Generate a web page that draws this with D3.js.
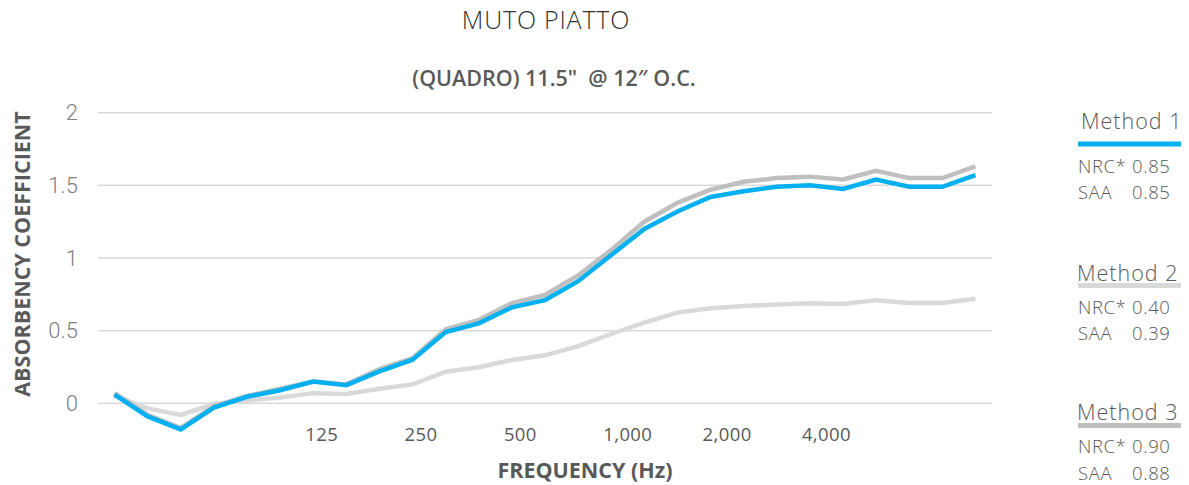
<!DOCTYPE html>
<html>
<head>
<meta charset="utf-8">
<script src="https://cdn.jsdelivr.net/npm/d3@7"></script>
<style>
  html, body { margin: 0; padding: 0; background: #fff; }
  svg { display: block; }
</style>
</head>
<body>
<svg id="chart" width="1189" height="485"></svg>
<script>
// ---- data ----
const categories = d3.range(27).map(i => "b" + i); // 1/3-octave band positions
const tickLabels = ["125", "250", "500", "1,000", "2,000", "4,000"];
const tickIndex = [6, 9, 12, 15, 18, 21];
const yTicks = [0, 0.5, 1, 1.5, 2];

const method1 = [0.06, -0.09, -0.18, -0.03, 0.045, 0.09, 0.15, 0.125, 0.22, 0.30, 0.49, 0.55, 0.66, 0.71, 0.84, 1.02, 1.20, 1.32, 1.42, 1.46, 1.49, 1.50, 1.475, 1.54, 1.49, 1.49, 1.57];
const method2 = [0.05, -0.035, -0.08, -0.005, 0.02, 0.04, 0.07, 0.064, 0.10, 0.13, 0.217, 0.248, 0.298, 0.33, 0.394, 0.477, 0.555, 0.624, 0.654, 0.67, 0.68, 0.688, 0.683, 0.71, 0.69, 0.69, 0.72];
const method3 = [0.07, -0.08, -0.17, -0.02, 0.05, 0.10, 0.15, 0.13, 0.236, 0.31, 0.51, 0.573, 0.69, 0.745, 0.88, 1.055, 1.25, 1.38, 1.47, 1.525, 1.55, 1.56, 1.54, 1.60, 1.55, 1.55, 1.63];

const methodNames = ["Method 1", "Method 2", "Method 3"];
const nrcValues = ["0.85", "0.40", "0.90"];
const saaValues = ["0.85", "0.39", "0.88"];

const title = "MUTO PIATTO";
const subtitle = "(QUADRO) 11.5\"  @ 12\u2033 O.C.";
const xTitle = "FREQUENCY (Hz)";
const yTitle = "ABSORBENCY COEFFICIENT";

// ---- drawing ----
const svg = d3.select("#chart");
const colors = ["#00b0f0", "#d9d9d9", "#bfbfbf"];

const x = d3.scalePoint().domain(categories).range([98, 992]).padding(0.5);
const y = d3.scaleLinear().domain([0, 2]).range([403.3, 112.7]);

// gridlines
svg.append("g").selectAll("line").data(yTicks).join("line")
  .attr("x1", 98).attr("x2", 992)
  .attr("y1", d => y(d)).attr("y2", d => y(d))
  .attr("stroke", "#d9d9d9").attr("stroke-width", 1.5);

// y axis labels
const yAxis = d3.axisLeft(y).tickValues(yTicks).tickSize(0).tickPadding(0)
  .tickFormat(d3.format("~g"));
const gy = svg.append("g").attr("transform", "translate(78,0)").call(yAxis);
gy.select(".domain").remove();
gy.selectAll("text")
  .attr("font-family", "Roboto, sans-serif")
  .attr("font-weight", 300)
  .attr("font-size", 22)
  .attr("fill", "#808080");

// x tick labels
svg.append("g").selectAll("text").data(tickLabels).join("text")
  .attr("x", (d, i) => x(categories[tickIndex[i]]) - 8)
  .attr("y", 441)
  .attr("text-anchor", "start")
  .attr("font-family", "'Open Sans', sans-serif")
  .attr("font-size", 18.5)
  .attr("letter-spacing", 0.4)
  .attr("fill", "#595959")
  .text(d => d);

// lines
const line = d3.line().x((d, i) => x(categories[i])).y(d => y(d));
const series = [
  { vals: method2, color: colors[1] },
  { vals: method3, color: colors[2] },
  { vals: method1, color: colors[0] }
];
svg.append("g").selectAll("path").data(series).join("path")
  .attr("d", d => line(d.vals))
  .attr("fill", "none")
  .attr("stroke", d => d.color)
  .attr("stroke-width", 4.5)
  .attr("stroke-linejoin", "miter");

// titles
svg.append("text").attr("x", 546).attr("y", 29)
  .attr("text-anchor", "middle")
  .attr("font-family", "'Open Sans', sans-serif").attr("font-weight", 300)
  .attr("font-size", 25).attr("letter-spacing", 0.8)
  .attr("fill", "#333333").text(title);

svg.append("text").attr("x", 554).attr("y", 86)
  .attr("text-anchor", "middle").style("white-space", "pre")
  .attr("font-family", "'Open Sans', sans-serif").attr("font-weight", 600)
  .attr("font-size", 21.5).attr("fill", "#595959").text(subtitle);

svg.append("text").attr("x", 585).attr("y", 478)
  .attr("text-anchor", "middle")
  .attr("font-family", "'Open Sans', sans-serif").attr("font-weight", 700)
  .attr("font-size", 21.5).attr("fill", "#595959").text(xTitle);

svg.append("text").attr("transform", "translate(30,254) rotate(-90)")
  .attr("text-anchor", "middle")
  .attr("font-family", "'Open Sans', sans-serif").attr("font-weight", 700)
  .attr("font-size", 21.5).attr("fill", "#595959").text(yTitle);

// legend
const legendTop = [129.3, 281, 420];
const legendLine = [144, 285.5, 425.5];
const legendNrc = [173.3, 314, 453];
const legendSaa = [199.3, 340, 480];
const lg = svg.append("g");
const small = (xp, yp, t) => lg.append("text").attr("x", xp).attr("y", yp)
  .attr("font-family", "'Open Sans', sans-serif").attr("font-weight", 300)
  .attr("font-size", 18.5).attr("letter-spacing", 0.6)
  .attr("fill", "#595959").text(t);
methodNames.forEach((name, i) => {
  lg.append("text").attr("x", i === 0 ? 1081 : 1077).attr("y", legendTop[i])
    .attr("font-family", "'Open Sans', sans-serif").attr("font-weight", 300)
    .attr("font-size", 21.5).attr("letter-spacing", 1)
    .attr("fill", "#595959").text(name);
  lg.append("line").attr("x1", 1078).attr("x2", 1181)
    .attr("y1", legendLine[i]).attr("y2", legendLine[i])
    .attr("stroke", colors[i]).attr("stroke-width", 5);
  small(1078, legendNrc[i], "NRC*");
  small(1132, legendNrc[i], nrcValues[i]);
  small(1078, legendSaa[i], "SAA");
  small(1132, legendSaa[i], saaValues[i]);
});
</script>
</body>
</html>
